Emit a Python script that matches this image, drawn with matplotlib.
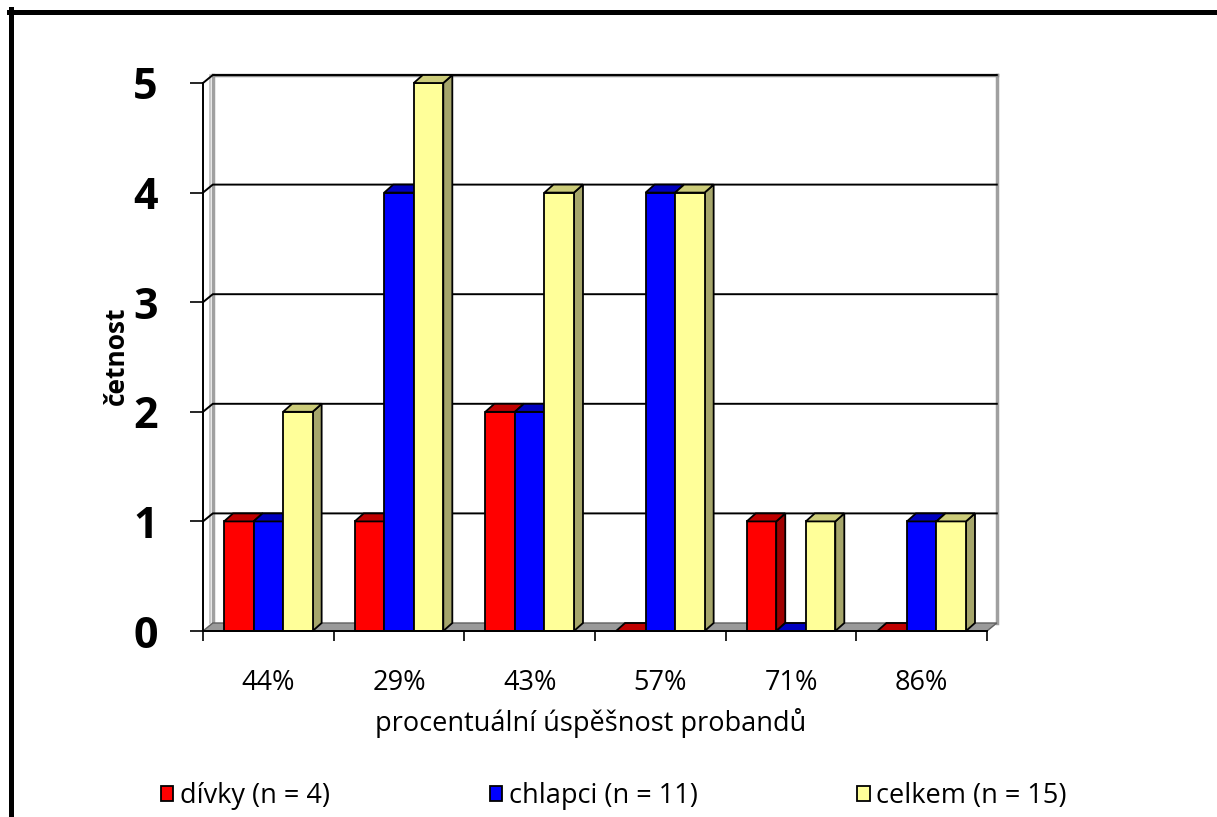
import matplotlib
matplotlib.use("Agg")
import matplotlib.pyplot as plt
from matplotlib.patches import Polygon, Patch
from matplotlib.lines import Line2D

plt.rcParams["font.family"] = ["Open Sans", "DejaVu Sans"]

# data
categories = ["44%", "29%", "43%", "57%", "71%", "86%"]
divky = [1, 1, 2, 0, 1, 0]
chlapci = [1, 4, 2, 4, 0, 1]
celkem = [2, 5, 4, 4, 1, 1]
series_labels = ["dívky (n = 4)", "chlapci (n = 11)", "celkem (n = 15)"]

# front / top / side shades for each series
shades = [
    ("#ff0000", "#c00000", "#a00000"),
    ("#0000ff", "#0000c0", "#0000a0"),
    ("#ffff99", "#cccc7a", "#a6a66b"),
]

W, H, DPI = 1217, 817, 100
BAR_W = 0.226
WALL_DX, WALL_DY = 0.075, 0.073   # depth of the walls/floor in data units
BAR_DX, BAR_DY = 0.069, 0.073     # depth of a column
TXT = 19.5

fig = plt.figure(figsize=(W / DPI, H / DPI), dpi=DPI, facecolor="white")
ax = fig.add_axes([203 / W, (H - 631) / H, 784 / W, 548 / H])
n = len(categories)
x0, x1 = -0.5, n - 0.5
ax.set_xlim(x0, x1)
ax.set_ylim(0, 5)

# floor
floor = Polygon([(x0, 0), (x1, 0), (x1 + WALL_DX, WALL_DY), (x0 + WALL_DX, WALL_DY)],
                closed=True, facecolor="#9a9a9a", edgecolor="#606060", lw=1,
                zorder=1, clip_on=False)
ax.add_patch(floor)

# back wall outline and left wall
ax.plot([x0 + WALL_DX, x0 + WALL_DX], [WALL_DY, 5 + WALL_DY], color="#a0a0a0",
        lw=2.5, zorder=0.5, clip_on=False)
ax.plot([x0 + WALL_DX - 0.025, x0 + WALL_DX - 0.025], [WALL_DY, 5 + WALL_DY],
        color="#c0c0c0", lw=1.2, zorder=0.5, clip_on=False)
ax.plot([x1 + WALL_DX, x1 + WALL_DX], [WALL_DY, 5 + WALL_DY], color="#a0a0a0",
        lw=2.5, zorder=0.5, clip_on=False)
ax.plot([x0 + WALL_DX, x1 + WALL_DX], [5 + WALL_DY, 5 + WALL_DY], color="#909090",
        lw=2.5, zorder=0.5, clip_on=False)

# gridlines on the back wall, joined to the front axis across the side wall
for v in range(1, 6):
    ax.plot([x0, x0 + WALL_DX, x1 + WALL_DX], [v, v + WALL_DY, v + WALL_DY],
            color="black", lw=1.4, zorder=0.8, clip_on=False)

# columns
z = 2
for i in range(n):
    for j, vals in enumerate([divky, chlapci, celkem]):
        front, top, side = shades[j]
        xc = i + (j - 1) * BAR_W
        left, right = xc - BAR_W / 2, xc + BAR_W / 2
        h = vals[i]
        ax.add_patch(Polygon([(right, 0), (right + BAR_DX, BAR_DY),
                              (right + BAR_DX, h + BAR_DY), (right, h)],
                             closed=True, facecolor=side, edgecolor="black",
                             lw=1.3, zorder=z, clip_on=False))
        ax.bar(xc, h, width=BAR_W, color=front, edgecolor="black", lw=1.3,
               zorder=z + 0.1, clip_on=False)
        ax.add_patch(Polygon([(left, h), (right, h), (right + BAR_DX, h + BAR_DY),
                              (left + BAR_DX, h + BAR_DY)],
                             closed=True, facecolor=top, edgecolor="black",
                             lw=1.3, zorder=z + 0.2, clip_on=False))
        z += 1

# axes
for s in ("top", "right"):
    ax.spines[s].set_visible(False)
for s in ("left", "bottom"):
    ax.spines[s].set_linewidth(1.4)
    ax.spines[s].set_zorder(100)

ax.set_yticks(range(6))
ax.set_yticklabels([str(v) for v in range(6)], fontsize=31, fontweight="bold")
ax.tick_params(axis="y", length=9.5, width=1.2, pad=23)

ax.set_xticks(range(n))
ax.set_xticklabels(categories, fontsize=TXT)
ax.set_xticks([k - 0.5 for k in range(n + 1)], minor=True)
ax.tick_params(axis="x", which="major", length=0, pad=27)
ax.tick_params(axis="x", which="minor", length=7.5, width=1.2)

fig.text(591 / W, 1 - 723 / H, "procentuální úspěšnost probandů", fontsize=TXT,
         ha="center", va="center")
fig.text(116 / W, 1 - 356 / H, "četnost", fontsize=19, fontweight="bold",
         rotation=90, ha="center", va="center")

handles = [Patch(facecolor=s[0], edgecolor="black", lw=1.3) for s in shades]
fig.legend(handles, series_labels, loc="center", bbox_to_anchor=(614 / W, 1 - 796 / H),
           ncol=3, frameon=False, fontsize=TXT, columnspacing=5.9,
           handlelength=0.45, handleheight=0.5, handletextpad=0.25)

# outer frame
fig.add_artist(Line2D([9 / W, 1], [1 - 11.5 / H, 1 - 11.5 / H], transform=fig.transFigure,
                      color="black", lw=3.6))
fig.add_artist(Line2D([10.5 / W, 10.5 / W], [0, 1 - 9 / H], transform=fig.transFigure,
                      color="black", lw=3.6))

fig.savefig("out.png", dpi=DPI)
